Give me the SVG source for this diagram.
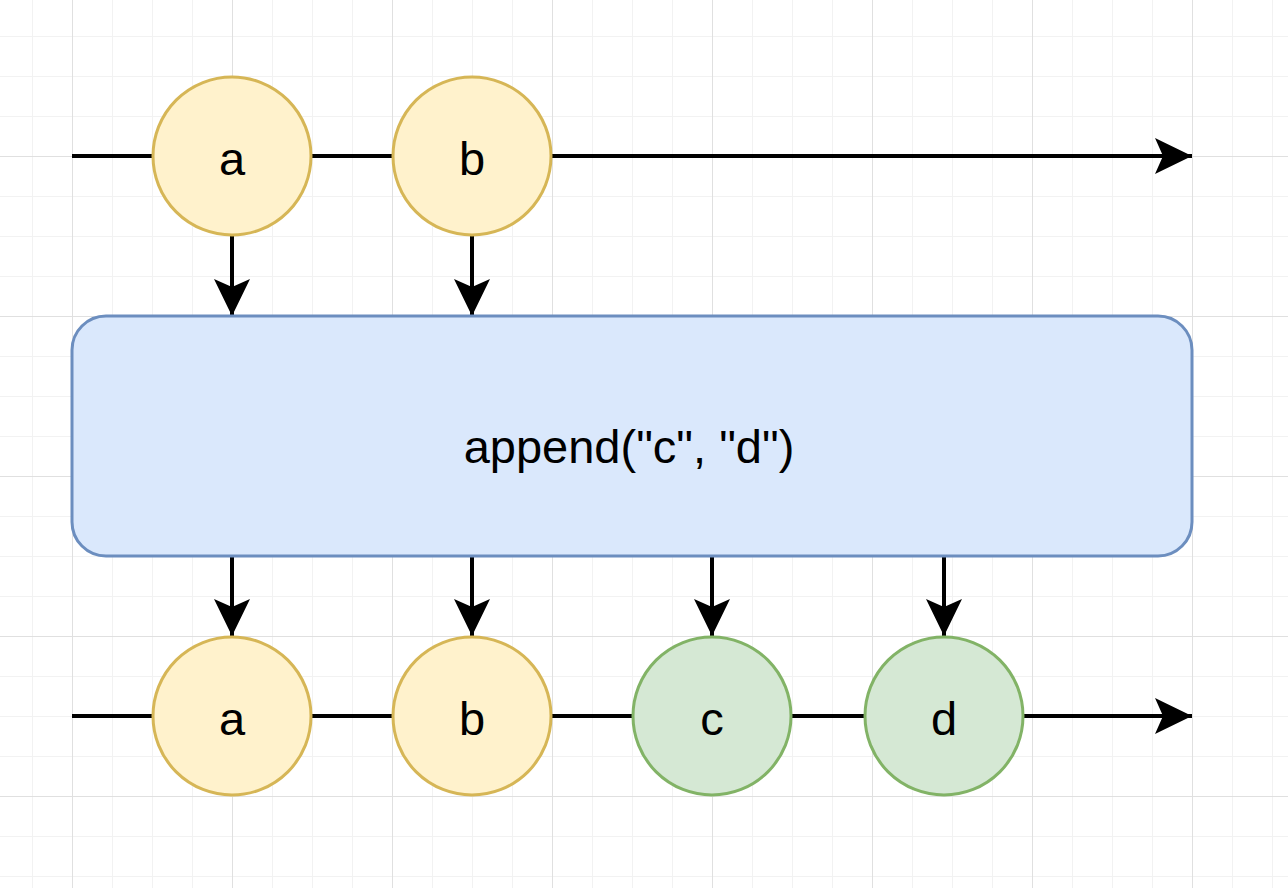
<svg xmlns="http://www.w3.org/2000/svg" width="1288" height="888" viewBox="0 0 1288 888">
  <defs>
    <pattern id="minor" width="40" height="40" patternUnits="userSpaceOnUse" x="32" y="36">
      <path d="M0 0.5H40M0.5 0V40" fill="none" stroke="#f2f2f2" stroke-width="1"/>
    </pattern>
    <pattern id="major" width="160" height="160" patternUnits="userSpaceOnUse" x="72" y="156">
      <path d="M0 0.5H160M0.5 0V160" fill="none" stroke="#e0e0e0" stroke-width="1"/>
    </pattern>
    <marker id="arrow" markerUnits="userSpaceOnUse" markerWidth="40" markerHeight="40" refX="37" refY="18" orient="auto" viewBox="0 0 40 40">
      <path d="M0,0 L37,18 L0,36 L8,18 Z" fill="#000"/>
    </marker>
    <style>
      .edge { stroke: #000; stroke-width: 4; fill: none; }
      .yellow { fill: #fff2cc; stroke: #d6b656; stroke-width: 3; }
      .green { fill: #d5e8d4; stroke: #82b366; stroke-width: 3; }
      .op { fill: #dae8fc; stroke: #6c8ebf; stroke-width: 3; }
      .label { font-family: "Liberation Sans", Arial, Helvetica, sans-serif; font-size: 47px; fill: #000; text-anchor: middle; }
    </style>
  </defs>
  <rect width="1288" height="888" fill="#ffffff"/>
  <rect width="1288" height="888" fill="url(#minor)"/>
  <rect width="1288" height="888" fill="url(#major)"/>

  <g id="connectors">
    <line class="edge" x1="72" y1="156" x2="152" y2="156"/>
    <line class="edge" x1="312" y1="156" x2="392" y2="156"/>
    <line class="edge" x1="552" y1="156" x2="1192" y2="156" marker-end="url(#arrow)"/>
    <line class="edge" x1="232" y1="236" x2="232" y2="316" marker-end="url(#arrow)"/>
    <line class="edge" x1="472" y1="236" x2="472" y2="316" marker-end="url(#arrow)"/>
    <line class="edge" x1="232" y1="556" x2="232" y2="636" marker-end="url(#arrow)"/>
    <line class="edge" x1="472" y1="556" x2="472" y2="636" marker-end="url(#arrow)"/>
    <line class="edge" x1="712" y1="556" x2="712" y2="636" marker-end="url(#arrow)"/>
    <line class="edge" x1="944" y1="552" x2="944" y2="636" marker-end="url(#arrow)"/>
    <line class="edge" x1="72" y1="716" x2="152" y2="716"/>
    <line class="edge" x1="312" y1="716" x2="392" y2="716"/>
    <line class="edge" x1="552" y1="716" x2="632" y2="716"/>
    <line class="edge" x1="792" y1="716" x2="864" y2="716"/>
    <line class="edge" x1="1024" y1="716" x2="1192" y2="716" marker-end="url(#arrow)"/>
  </g>

  <g id="op-append">
    <rect class="op" x="72" y="316" width="1120" height="240" rx="34" ry="34"/>
    <text class="label" x="629" y="463">append("c", "d")</text>
  </g>

  <g id="in-a">
    <circle class="yellow" cx="232" cy="156" r="79"/>
    <text class="label" x="232" y="175">a</text>
  </g>
  <g id="in-b">
    <circle class="yellow" cx="472" cy="156" r="79"/>
    <text class="label" x="472" y="175">b</text>
  </g>
  <g id="out-a">
    <circle class="yellow" cx="232" cy="716" r="79"/>
    <text class="label" x="232" y="735">a</text>
  </g>
  <g id="out-b">
    <circle class="yellow" cx="472" cy="716" r="79"/>
    <text class="label" x="472" y="735">b</text>
  </g>
  <g id="out-c">
    <circle class="green" cx="712" cy="716" r="79"/>
    <text class="label" x="712" y="735">c</text>
  </g>
  <g id="out-d">
    <circle class="green" cx="944" cy="716" r="79"/>
    <text class="label" x="944" y="735">d</text>
  </g>
</svg>
